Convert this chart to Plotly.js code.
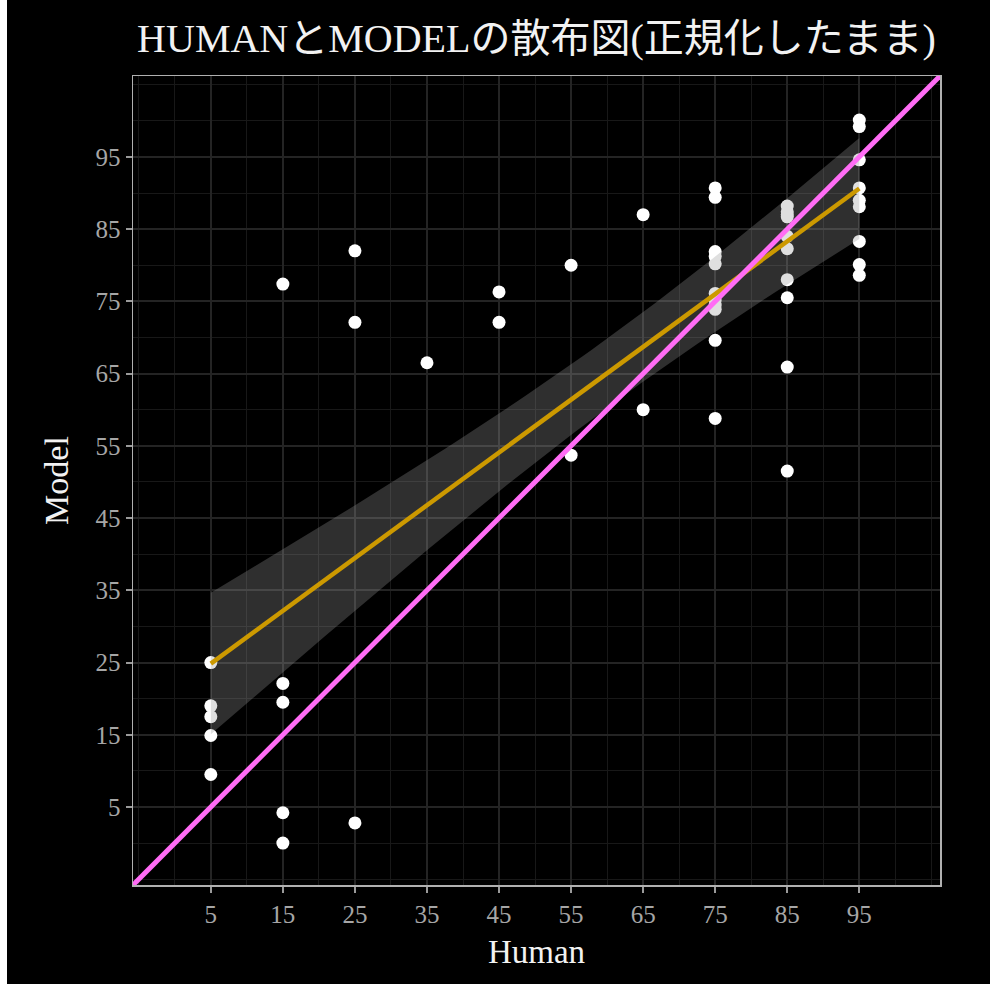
<!DOCTYPE html>
<html>
<head>
<meta charset="utf-8">
<script src="https://cdn.plot.ly/plotly-3.0.1.min.js"></script>
<style>
html,body{margin:0;padding:0;background:#000;}
#wrap{position:relative;width:990px;height:984px;}
#chart{width:990px;height:984px;}
#edge{position:absolute;left:0;top:0;width:7px;height:984px;background:#fff;}
</style>
</head>
<body>
<div id="wrap"><div id="chart"></div><div id="edge"></div></div>
<script>
// ---- data ----
const human = [
  5,5,5,5,5,
  15,15,15,15,15,
  25,25,25,
  35,
  45,45,
  55,55,
  65,65,
  75,75,75,75,75,75,75,75,75,75,75,
  85,85,85,85,85,85,85,85,85,85,
  95,95,95,95,95,95,95,95,95
];
const model = [
  25.0,19.0,17.5,14.9,9.5,
  77.4,22.1,19.5,4.2,0.0,
  82.0,72.1,2.8,
  66.5,
  76.3,72.1,
  80.0,53.7,
  87.0,60.0,
  90.7,89.4,81.9,81.2,80.2,76.1,75.2,73.9,69.6,58.8,74.5,
  88.2,87.4,86.7,84.0,82.3,78.0,75.5,65.9,51.5,87.0,
  100.1,99.2,94.6,90.7,89.0,88.1,83.3,80.1,78.6
];
const tickValues = [5,15,25,35,45,55,65,75,85,95];
const axisRange = [-5.8, 106.2];
const abline = {intercept: 0, slope: 1};
const titleText = 'HUMANとMODELの散布図(正規化したまま)';
const xTitle = 'Human';
const yTitle = 'Model';

// ---- linear fit with 95% confidence band (as geom_smooth(method="lm")) ----
const n = human.length;
const mx = human.reduce((a,b)=>a+b,0)/n;
const my = model.reduce((a,b)=>a+b,0)/n;
let sxx=0, sxy=0;
for (let i=0;i<n;i++){ sxx+=(human[i]-mx)**2; sxy+=(human[i]-mx)*(model[i]-my); }
const slope = sxy/sxx, icpt = my - slope*mx;
let sse=0;
for (let i=0;i<n;i++){ sse+=(model[i]-(icpt+slope*human[i]))**2; }
const s = Math.sqrt(sse/(n-2));
const tcrit = 2.0106; // t(0.975, 48)
const xmin = Math.min(...human), xmax = Math.max(...human);
const fx=[], fy=[], lo=[], hi=[];
for (let k=0;k<=80;k++){
  const x = xmin + (xmax-xmin)*k/80;
  const y = icpt + slope*x;
  const se = s*Math.sqrt(1/n + (x-mx)**2/sxx);
  fx.push(x); fy.push(y); lo.push(y - tcrit*se); hi.push(y + tcrit*se);
}
const abx = axisRange.slice();
const aby = abx.map(x => abline.intercept + abline.slope*x);

const serif = '"Liberation Serif", "DejaVu Serif", "Noto Sans CJK JP", serif';

const traces = [
  {x: human, y: model, type: 'scatter', mode: 'markers',
   marker: {color: '#ffffff', size: 13, line: {width: 0}}, hoverinfo: 'x+y'},
  {x: fx.concat(fx.slice().reverse()), y: hi.concat(lo.slice().reverse()),
   type: 'scatter', mode: 'lines', fill: 'toself', fillcolor: 'rgba(153,153,153,0.31)',
   line: {width: 0}, hoverinfo: 'skip'},
  {x: fx, y: fy, type: 'scatter', mode: 'lines', line: {color: '#CC9900', width: 4.5}},
  {x: abx, y: aby, type: 'scatter', mode: 'lines', line: {color: '#FF6CF5', width: 5}, cliponaxis: false}
];

const axisCommon = {
  range: axisRange,
  tickmode: 'array',
  tickvals: tickValues,
  ticktext: tickValues.map(String),
  ticks: 'outside', ticklen: 6, tickwidth: 2, tickcolor: '#9a9a9a',
  tickfont: {family: serif, size: 25, color: '#a6a6a6'},
  showgrid: true, gridcolor: '#242424', gridwidth: 2,
  minor: {tickmode: 'linear', tick0: 0, dtick: 5, showgrid: true, gridcolor: '#181818', gridwidth: 1, ticks: ''},
  zeroline: false,
  showline: true, mirror: true, linecolor: '#b0b0b0', linewidth: 1.5
};

const layout = {
  width: 990, height: 984,
  paper_bgcolor: '#000000', plot_bgcolor: '#000000',
  showlegend: false,
  margin: {l: 133, r: 50, t: 76, b: 99},
  title: {text: titleText, font: {family: serif, size: 40, color: '#f2f2f2'},
          x: 0.5, xref: 'paper', y: 1 - 38/984, yref: 'container', yanchor: 'middle'},
  xaxis: Object.assign({}, axisCommon, {
    title: {text: xTitle, font: {family: serif, size: 33, color: '#f2f2f2'}, standoff: 13}
  }),
  yaxis: Object.assign({}, axisCommon, {
    title: {text: yTitle, font: {family: serif, size: 34, color: '#f2f2f2'}, standoff: 16}
  })
};

Plotly.newPlot('chart', traces, layout, {displayModeBar: false, staticPlot: true});
</script>
</body>
</html>
